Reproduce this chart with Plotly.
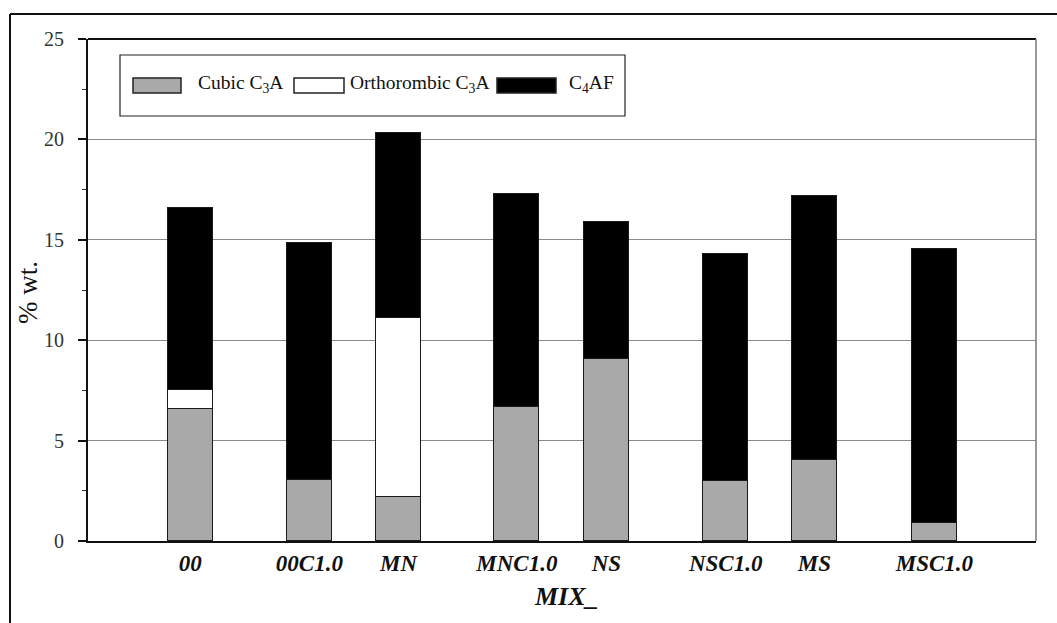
import plotly.graph_objects as go

# Phase content of the mixes (% wt.)
mixes = ["00", "00C1.0", "MN", "MNC1.0", "NS", "NSC1.0", "MS", "MSC1.0"]
cubic_c3a = [6.55, 3.05, 2.2, 6.65, 9.05, 3.0, 4.05, 0.9]
ortho_c3a = [0.95, None, 8.9, None, None, None, None, None]
c4af = [9.08, 11.8, 9.22, 10.63, 6.84, 11.3, 13.13, 13.64]

# Bar centres along the category axis (bar width = 1 unit)
x_pos = [2.27, 4.92, 6.90, 9.53, 11.52, 14.17, 16.14, 18.81]
y_ticks = [0, 5, 10, 15, 20, 25]

W, H = 1057, 623
L, R, T, B = 88, 21, 39, 82
PW, PH = W - L - R, H - T - B

SERIF = "Liberation Serif, Times New Roman, serif"
EDGE = dict(color="#1a1a1a", width=1.5)


def px(x):
    return (x - L) / PW


def py(y):
    return (H - B - y) / PH


fig = go.Figure()
fig.add_trace(go.Bar(x=x_pos, y=cubic_c3a, width=1, name="Cubic C3A",
                     marker=dict(color="#a9a9a9", line=EDGE)))
fig.add_trace(go.Bar(x=x_pos, y=ortho_c3a, width=1, name="Orthorombic C3A",
                     marker=dict(color="#ffffff", line=EDGE)))
fig.add_trace(go.Bar(x=x_pos, y=c4af, width=1, name="C4AF",
                     marker=dict(color="#000000", line=EDGE)))

shapes = [
    # outer frame (top and left edges)
    dict(type="line", xref="paper", yref="paper", x0=px(10), x1=px(W + 5),
         y0=py(14), y1=py(14), line=dict(color="#111", width=2)),
    dict(type="line", xref="paper", yref="paper", x0=px(10), x1=px(10),
         y0=py(14), y1=py(H + 5), line=dict(color="#111", width=2)),
    # plot frame top and right
    dict(type="line", xref="paper", yref="paper", x0=0, x1=1, y0=1, y1=1,
         line=dict(color="#111", width=2)),
    dict(type="line", xref="paper", yref="paper", x0=1, x1=1, y0=0, y1=1,
         line=dict(color="#777", width=1.5)),
    # legend box
    dict(type="rect", xref="paper", yref="paper", x0=px(120), x1=px(625),
         y0=py(116), y1=py(55), line=dict(color="#222", width=1.2),
         fillcolor="white", layer="above"),
]

legend_items = [
    (133, 181, "#a9a9a9", 196, "Cubic C<sub>3</sub>A"),
    (294, 344, "#ffffff", 348, "Orthorombic C<sub>3</sub>A"),
    (497, 556, "#000000", 567, "C<sub>4</sub>AF"),
]
annotations = []
for x0, x1, col, tx, label in legend_items:
    shapes.append(dict(type="rect", xref="paper", yref="paper",
                       x0=px(x0), x1=px(x1), y0=py(93), y1=py(78),
                       fillcolor=col, line=dict(color="#222", width=1.5),
                       layer="above"))
    annotations.append(dict(xref="paper", yref="paper", x=px(tx), y=py(84),
                            xanchor="left", yanchor="middle", showarrow=False,
                            text=label, font=dict(family=SERIF, size=19.5,
                                                  color="#111")))

annotations.append(dict(xref="paper", yref="paper", x=px(28), y=py(292),
                        xanchor="center", yanchor="middle", showarrow=False,
                        textangle=-90, text="% wt.",
                        font=dict(family=SERIF, size=27, color="#111")))
annotations.append(dict(xref="paper", yref="paper", x=px(566), y=py(596),
                        xanchor="center", yanchor="middle", showarrow=False,
                        text="<b><i>MIX_</i></b>",
                        font=dict(family=SERIF, size=26, color="#111")))

fig.update_layout(
    width=W, height=H,
    margin=dict(l=L, r=R, t=T, b=B, pad=0),
    barmode="stack",
    bargap=0,
    showlegend=False,
    paper_bgcolor="white",
    plot_bgcolor="white",
    shapes=shapes,
    annotations=annotations,
    xaxis=dict(
        range=[0, PW / 45.0],
        tickvals=x_pos,
        ticktext=[f"<b><i>{m}</i></b>" for m in mixes],
        tickfont=dict(family=SERIF, size=23, color="#111"),
        ticks="", showgrid=False, zeroline=False,
        showline=True, linecolor="#111", linewidth=2,
        ticklabelstandoff=0,
    ),
    yaxis=dict(
        range=[0, 25],
        tickvals=y_ticks,
        tickfont=dict(family=SERIF, size=20, color="#333"),
        ticks="outside", ticklen=8, tickwidth=1.5, tickcolor="#111",
        minor=dict(dtick=2.5, ticks="outside", ticklen=4, tickwidth=1,
                   tickcolor="#333", showgrid=False),
        showgrid=True, gridcolor="#8a8a8a", gridwidth=1.2,
        zeroline=False, showline=True, linecolor="#111", linewidth=2,
        ticklabelstandoff=10,
    ),
)

fig.write_html("out.html")
